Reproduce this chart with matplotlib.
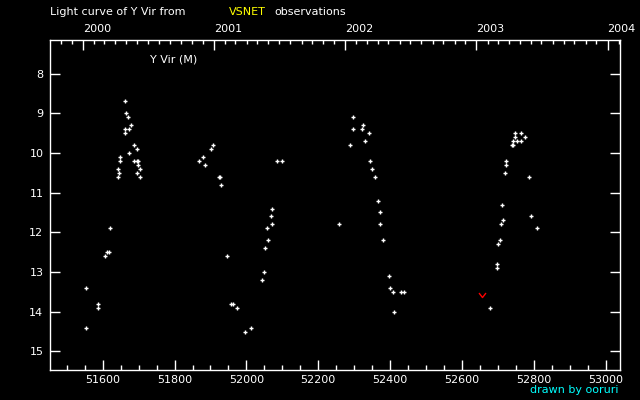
import datetime
import matplotlib
matplotlib.use('Agg')
import matplotlib.pyplot as plt
from matplotlib.ticker import MultipleLocator, FixedLocator, NullFormatter

# JD - 2400000 and visual magnitude
jd = [51663, 51666, 51671, 51680, 51663, 51674, 51663, 51688, 51694, 51649,
      51674, 51649, 51688, 51694, 51699, 51699, 51643, 51705, 51646, 51696,
      51643, 51705, 51621, 51613, 51618, 51605, 51552, 51588, 51588, 51552,
      51908, 51902, 51880, 51869, 51886, 51925, 51927, 51930, 51947, 51958,
      51964, 51975, 52014, 51997, 52086, 52100, 52072, 52069, 52072, 52058,
      52061, 52053, 52050, 52044,
      52298, 52325, 52298, 52323, 52342, 52331, 52289, 52345, 52350, 52359,
      52367, 52373, 52259, 52373, 52381, 52398, 52400, 52409, 52431, 52439,
      52412,
      52748, 52765, 52748, 52776, 52743, 52754, 52765, 52740, 52743, 52723,
      52723, 52721, 52787, 52712, 52793, 52715, 52709, 52810, 52707, 52701,
      52698, 52698, 52679]
mag = [8.7, 9.0, 9.1, 9.3, 9.4, 9.4, 9.5, 9.8, 9.9, 10.1,
       10.0, 10.2, 10.2, 10.2, 10.2, 10.3, 10.4, 10.4, 10.5, 10.5,
       10.6, 10.6, 11.9, 12.5, 12.5, 12.6, 13.4, 13.8, 13.9, 14.4,
       9.8, 9.9, 10.1, 10.2, 10.3, 10.6, 10.6, 10.8, 12.6, 13.8,
       13.8, 13.9, 14.4, 14.5, 10.2, 10.2, 11.4, 11.6, 11.8, 11.9,
       12.2, 12.4, 13.0, 13.2,
       9.1, 9.3, 9.4, 9.4, 9.5, 9.7, 9.8, 10.2, 10.4, 10.6,
       11.2, 11.5, 11.8, 11.8, 12.2, 13.1, 13.4, 13.5, 13.5, 13.5,
       14.0,
       9.5, 9.5, 9.6, 9.6, 9.7, 9.7, 9.7, 9.8, 9.8, 10.2,
       10.3, 10.5, 10.6, 11.3, 11.6, 11.7, 11.8, 11.9, 12.2, 12.3,
       12.8, 12.9, 13.9]

# fainter-than observations
jd_faint = [52656]
mag_faint = [13.6]

years = [2000, 2001, 2002, 2003, 2004]


def to_jd(d):
    return (d - datetime.date(1858, 11, 17)).days + 0.5


year_jd = [to_jd(datetime.date(y, 1, 1)) for y in years]
month_jd = []
for y in range(1999, 2005):
    for m in range(1, 13):
        month_jd.append(to_jd(datetime.date(y, m, 1)))

fig = plt.figure(figsize=(6.4, 4.0), dpi=100, facecolor='black')
ax = fig.add_axes([0.0786, 0.075, 0.8906, 0.8243], facecolor='black')

ax.plot(jd, mag, linestyle='none', marker='+', ms=3.2, mew=1.0, color='white')
ax.plot(jd_faint, mag_faint, linestyle='none',
        marker=[(-1, 1), (0, -0.3), (1, 1)], ms=5, mew=1.0,
        mfc='none', color='red')

ax.set_xlim(51454, 53041)
ax.set_ylim(15.47, 7.16)

ax.xaxis.set_major_locator(MultipleLocator(200))
ax.xaxis.set_minor_locator(MultipleLocator(50))
ax.yaxis.set_major_locator(MultipleLocator(1))
ax.tick_params(axis='x', which='major', direction='in', length=7.2, width=1,
               color='white', labelcolor='white', labelsize=8, pad=3.5,
               bottom=True, top=False)
ax.tick_params(axis='x', which='minor', direction='in', length=3.6, width=1,
               color='white', bottom=True, top=False)
ax.tick_params(axis='y', which='major', direction='in', length=7.2, width=1,
               color='white', labelcolor='white', labelsize=8, pad=5,
               left=True, right=True)
ax.set_xticks(range(51600, 53001, 200))
ax.set_xticklabels([str(v) for v in range(51600, 53001, 200)])

for s in ax.spines.values():
    s.set_color('white')
    s.set_linewidth(1)

# calendar years along the top
ax2 = ax.twiny()
ax2.set_xlim(ax.get_xlim())
ax2.xaxis.set_major_locator(FixedLocator(year_jd))
ax2.xaxis.set_minor_locator(FixedLocator(month_jd))
ax2.xaxis.set_major_formatter(NullFormatter())
ax2.tick_params(axis='x', which='major', direction='in', length=7.2, width=1,
                color='white')
ax2.tick_params(axis='x', which='minor', direction='in', length=2.9, width=1,
                color='white')
for s in ax2.spines.values():
    s.set_visible(False)
for yj, yr in zip(year_jd, years):
    ax2.text(yj, 1 + 8 / 330, str(yr), transform=ax2.get_xaxis_transform(),
             color='white', fontsize=8, ha='left', va='baseline')

fig.text(50 / 640, 1 - 12 / 400, 'Light curve of Y Vir from', color='white',
         fontsize=8, va='center', ha='left')
fig.text(229 / 640, 1 - 12 / 400, 'VSNET', color='yellow',
         fontsize=8, va='center', ha='left')
fig.text(274 / 640, 1 - 12 / 400, 'observations', color='white',
         fontsize=8, va='center', ha='left')
fig.text(150 / 640, 1 - 60 / 400, 'Y Vir (M)', color='white',
         fontsize=8, va='center', ha='left')
fig.text(619 / 640, 1 - 390 / 400, 'drawn by ooruri', color='cyan',
         fontsize=8, va='center', ha='right')

fig.savefig('out.png', dpi=100, facecolor='black')
